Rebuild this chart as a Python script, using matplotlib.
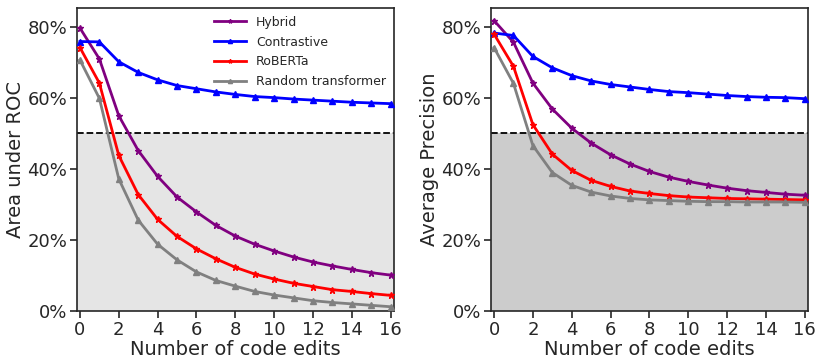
import matplotlib.pyplot as plt
import matplotlib.ticker as mtick
import numpy as np

edits = np.arange(17)

# Area under ROC (%)
roc_hybrid = [79.7, 71.0, 55.0, 45.2, 37.9, 32.1, 27.9, 24.1, 21.1, 18.8, 16.9, 15.2, 13.8, 12.7, 11.7, 10.8, 10.1]
roc_contrastive = [75.9, 75.8, 70.2, 67.2, 65.1, 63.5, 62.6, 61.7, 61.0, 60.4, 60.1, 59.7, 59.4, 59.1, 58.8, 58.6, 58.4]
roc_roberta = [74.2, 64.2, 43.8, 32.8, 25.8, 21.0, 17.5, 14.7, 12.3, 10.4, 9.0, 7.8, 6.9, 6.0, 5.5, 4.9, 4.4]
roc_random = [70.7, 59.9, 37.2, 25.6, 18.8, 14.4, 11.0, 8.6, 7.0, 5.5, 4.5, 3.7, 2.9, 2.4, 2.0, 1.6, 1.2]

# Average precision (%)
ap_hybrid = [81.8, 75.7, 64.2, 56.9, 51.5, 47.3, 44.0, 41.4, 39.3, 37.7, 36.5, 35.5, 34.6, 33.9, 33.4, 32.9, 32.6]
ap_contrastive = [78.3, 77.6, 71.7, 68.5, 66.3, 64.8, 63.8, 63.1, 62.4, 61.8, 61.5, 61.1, 60.7, 60.4, 60.2, 60.1, 59.8]
ap_roberta = [78.0, 68.9, 52.5, 44.2, 39.6, 36.8, 35.1, 33.8, 33.1, 32.5, 32.1, 31.9, 31.7, 31.6, 31.5, 31.4, 31.3]
ap_random = [74.2, 64.1, 46.6, 39.0, 35.4, 33.5, 32.4, 31.7, 31.3, 31.1, 30.9, 30.8, 30.8, 30.7, 30.7, 30.7, 30.6]

baseline = 50

series_styles = [
    ("Hybrid", "purple", "*", 5),
    ("Contrastive", "blue", "^", 5),
    ("RoBERTa", "red", "*", 5),
    ("Random transformer", "gray", "^", 5),
]

fig = plt.figure(figsize=(8.31, 3.64), dpi=100)
ax1 = fig.add_axes([0.0927, 0.1456, 0.381, 0.832])
ax2 = fig.add_axes([0.591, 0.1456, 0.381, 0.832])


def draw_panel(ax, data, ylabel, shade):
    ax.axhspan(0, baseline, color=shade, zorder=0, lw=0)
    ax.axhline(baseline, color="black", linestyle="--", linewidth=1.3, zorder=1)
    for (name, color, marker, ms), vals in zip(series_styles, data):
        ax.plot(edits, vals, color=color, marker=marker, markersize=ms,
                linewidth=2.0, label=name, zorder=3)
    ax.set_xlim(-0.15, 16.15)
    ax.set_ylim(0, 85.3)
    ax.set_xticks(range(0, 17, 2))
    ax.set_yticks([0, 20, 40, 60, 80])
    ax.yaxis.set_major_formatter(mtick.FuncFormatter(lambda v, p: f"{v:.0f}%"))
    ax.set_xlabel("Number of code edits", fontsize=14, color="#262626", labelpad=1)
    ax.set_ylabel(ylabel, fontsize=14, color="#262626", labelpad=2)
    ax.tick_params(labelsize=13, colors="#262626", length=5, width=1.2, direction="out", pad=2)
    for s in ax.spines.values():
        s.set_color("#262626")
        s.set_linewidth(1.2)


draw_panel(ax1, [roc_hybrid, roc_contrastive, roc_roberta, roc_random],
           "Area under ROC", "#e5e5e5")
draw_panel(ax2, [ap_hybrid, ap_contrastive, ap_roberta, ap_random],
           "Average Precision", "#cccccc")

leg = ax1.legend(loc="upper right", frameon=False, fontsize=9, markerscale=0.6,
                 handlelength=2.6, borderaxespad=0.2, labelspacing=0.55)
for t in leg.get_texts():
    t.set_color("#262626")

plt.savefig("out.png", dpi=100)
